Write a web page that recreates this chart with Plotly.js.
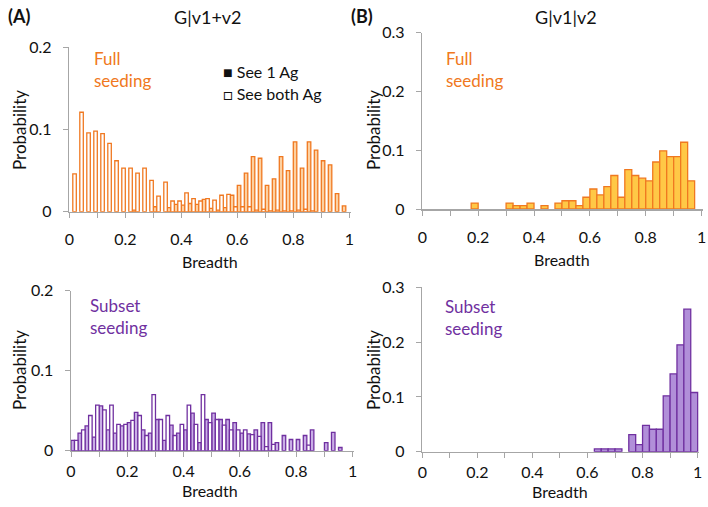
<!DOCTYPE html>
<html><head><meta charset="utf-8">
<script src="https://cdn.plot.ly/plotly-3.0.1.min.js"></script>
<style>html,body{margin:0;padding:0;background:#fff}#g{width:708px;height:507px}</style>
</head><body><div id="g"></div>
<script>
// bin lower edges (breadth)
const binStart = [0,0.025,0.05,0.075,0.1,0.125,0.15,0.175,0.2,0.225,0.25,0.275,0.3,0.325,0.35,0.375,0.4,0.425,0.45,0.475,
                  0.5,0.525,0.55,0.575,0.6,0.625,0.65,0.675,0.7,0.725,0.75,0.775,0.8,0.825,0.85,0.875,0.9,0.925,0.95,0.975];
// (A) G|v1+v2, Full seeding
const fullSee1 = [0,0,0,0,0,0,0,0,0,0.002,0,0,0.006,0,0.005,0.009,0.008,0.010,0.009,0.015,
                  0.004,0.002,0.005,0.020,0.032,0.047,0.067,0.065,0.032,0.040,0.067,0.050,0.085,0.053,0.085,0.075,0.062,0.057,0.022,0.007];
const fullBoth = [0.046,0.121,0.096,0.098,0.095,0.083,0.062,0.053,0.053,0.047,0.053,0.038,0.019,0.036,0.013,0.013,0.023,0.016,0.013,0.016,
                  0.014,0.020,0.021,0.006,0.006,0.006,0.002,0.003,0.001,0.002,0.001,0.001,0.002,0.003,0.001,0,0,0,0,0];
// (A) G|v1+v2, Subset seeding
const subSee1 = [0.013,0.022,0.031,0.017,0.056,0.026,0.022,0.031,0.035,0.048,0.026,0.022,0.039,0.013,0.032,0.022,0.026,0.047,0.010,0.039,
                 0.047,0.039,0.039,0.035,0.022,0.021,0.026,0.035,0.035,0.010,0.019,0.014,0.014,0.019,0.026,0,0.010,0.023,0.004,0];
const subBoth = [0.013,0.026,0.044,0.057,0.051,0.057,0.033,0.033,0.038,0.044,0.019,0.070,0.039,0.044,0.019,0.033,0.057,0.033,0.070,0.035,
                 0.039,0.032,0.026,0.026,0.026,0.020,0.018,0.005,0.008,0,0,0,0,0.007,0,0,0,0,0,0];
// (B) G|v1|v2
const fullB = [0,0,0,0,0,0,0,0.010,0,0,0,0,0.010,0.0056,0.0056,0.010,0,0.0056,0,0.010,
               0.014,0.014,0.0056,0.020,0.034,0.024,0.038,0.057,0.020,0.067,0.057,0.0525,0.048,0.080,0.099,0.089,0.089,0.1136,0.048,0];
const subB  = [0,0,0,0,0,0,0,0,0,0,0,0,0,0,0,0,0,0,0,0,
               0,0,0,0,0,0.005,0.005,0.005,0.005,0,0.031,0.013,0.048,0.041,0.041,0.102,0.142,0.195,0.260,0.108];

const ORANGE='#f07820', PURPLE='#7030a0';
const FONT='Lato, "Open Sans", sans-serif';
const W=708,H=507;
const px=v=>v/W, py=v=>1-v/H;
const nz=a=>a.map(v=>v===0?null:v); // empty bins draw nothing

function bar(x,y,xa,ya,fill,line,width,offset,name){
  return {type:'bar',x:x,y:nz(y),xaxis:xa,yaxis:ya,width:width,offset:offset,name:name,
    marker:{color:fill,line:{color:line,width:1.3}},showlegend:false,hoverinfo:'x+y'};
}
const data=[
  bar(binStart,fullSee1,'x','y','#fdd0a0',ORANGE,0.0125,0,'See 1 Ag'),
  bar(binStart,fullBoth,'x','y','#ffffff',ORANGE,0.0125,0.0125,'See both Ag'),
  bar(binStart,subSee1,'x2','y2','#c9aee6',PURPLE,0.0125,0,'See 1 Ag'),
  bar(binStart,subBoth,'x2','y2','#ffffff',PURPLE,0.0125,0.0125,'See both Ag'),
  bar(binStart,fullB,'x3','y3','#ffc846',ORANGE,0.025,0,'Full'),
  bar(binStart,subB,'x4','y4','#b18fd9',PURPLE,0.025,0,'Subset'),
];
function xax(d,anchor,st){return {domain:d,anchor:anchor,range:[0,1.005],dtick:0.2,tick0:0,ticks:'outside',ticklen:5,tickcolor:'#a6a6a6',
  showline:true,linecolor:'#a6a6a6',linewidth:1.5,showgrid:false,zeroline:false,ticklabelstandoff:st,
  minor:{dtick:0.1,ticks:'outside',ticklen:5,tickcolor:'#a6a6a6'},
  tickfont:{family:FONT,size:16,color:'#111'},tickformat:'~g'};}
function yax(d,anchor,top,dt){return {domain:d,anchor:anchor,range:[0,top],dtick:dt,ticks:'outside',ticklen:5,tickcolor:'#a6a6a6',
  showline:true,linecolor:'#a6a6a6',linewidth:1.5,showgrid:false,zeroline:false,ticklabelstandoff:8,
  tickfont:{family:FONT,size:16,color:'#111'},tickformat:'~g'};}

const ann=[];
function t(x,y,text,size,color,extra){ann.push(Object.assign({xref:'paper',yref:'paper',x:px(x),y:py(y),text:text,showarrow:false,
  font:{family:FONT,size:size,color:color||'#111'},xanchor:'center',yanchor:'middle'},extra||{}));}
t(19,16,'<b>(A)</b>',18);
t(362,16,'<b>(B)</b>',18);
t(208,17,'G|v1+v2',18);
t(566,17,'G|v1|v2',18);
t(19,130,'Probability',17,'#111',{textangle:-90});
t(19,370,'Probability',17,'#111',{textangle:-90});
t(373,130,'Probability',17,'#111',{textangle:-90});
t(373,370,'Probability',17,'#111',{textangle:-90});
t(210,261,'Breadth',16);
t(210,490,'Breadth',16);
t(562,259,'Breadth',16);
t(560,491,'Breadth',16);
t(92,69,'Full<br>seeding',17,ORANGE,{xanchor:'left',align:'left'});
t(444,69,'Full<br>seeding',17,ORANGE,{xanchor:'left',align:'left'});
t(88,316,'Subset<br>seeding',17,PURPLE,{xanchor:'left',align:'left'});
t(443,317,'Subset<br>seeding',17,PURPLE,{xanchor:'left',align:'left'});
t(221,71,'■ See 1 Ag',16,'#111',{xanchor:'left'});
t(221,93,'□ See both Ag',16,'#111',{xanchor:'left'});

const layout={width:W,height:H,margin:{l:0,r:0,t:0,b:0},paper_bgcolor:'#fff',plot_bgcolor:'rgba(0,0,0,0)',
  barmode:'overlay',showlegend:false,font:{family:FONT},
  xaxis:xax([px(69.3),px(350.7)],'y',8), yaxis:yax([py(211.7),py(47.3)],'x',0.2,0.1),
  xaxis2:xax([px(71),px(354)],'y2',1), yaxis2:yax([py(450.7),py(290.7)],'x2',0.2,0.1),
  xaxis3:xax([px(422.3),px(703)],'y3',8), yaxis3:yax([py(209),py(32.7)],'x3',0.3,0.1),
  xaxis4:xax([px(422.3),px(699)],'y4',1), yaxis4:yax([py(451.7),py(287.3)],'x4',0.3,0.1),
  annotations:ann};
Plotly.newPlot('g',data,layout,{staticPlot:true});
</script></body></html>
